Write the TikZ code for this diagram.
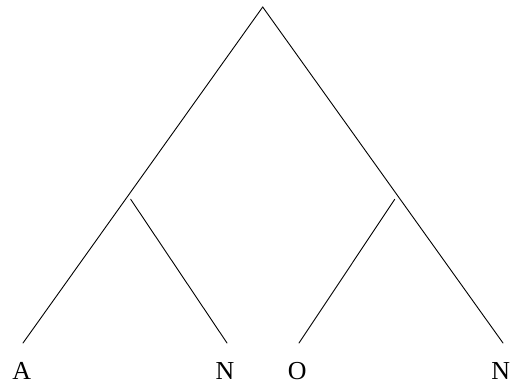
\documentclass[tikz,border=0pt]{standalone}
\usepackage{fontspec}
\setmainfont{Liberation Serif}
\begin{document}
\begin{tikzpicture}[x=1bp,y=-1bp,
  edge/.style={line width=0.9bp, line cap=round},
  leaf/.style={font=\fontsize{26}{28}\selectfont, inner sep=0pt, anchor=base}]
\useasboundingbox (0,0) rectangle (513,389);
\coordinate (root) at (262.7,7);
\coordinate (a) at (23,343);
\coordinate (n1) at (227,343);
\coordinate (o) at (299,343);
\coordinate (n2) at (503,343);
\coordinate (l) at (130.7,199.3);
\coordinate (r) at (394.7,199.3);
\draw[edge] (root) -- (a);
\draw[edge] (root) -- (n2);
\draw[edge] (l) -- (n1);
\draw[edge] (r) -- (o);
\node[leaf] (tA) at (21.7,379) {A};
\node[leaf] (tN1) at (225,379) {N};
\node[leaf] (tO) at (297.3,379) {O};
\node[leaf] (tN2) at (500.7,379) {N};
\end{tikzpicture}
\end{document}
